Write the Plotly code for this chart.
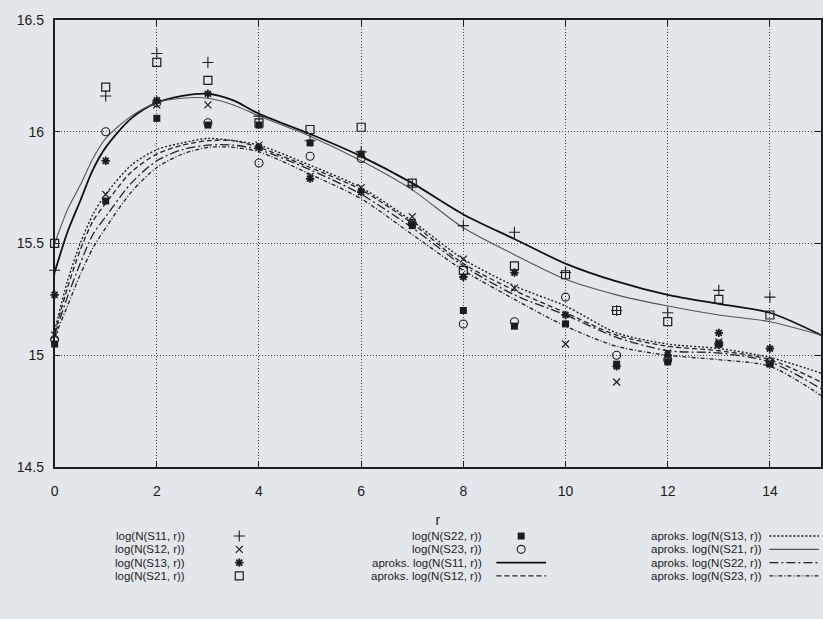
import plotly.graph_objects as go

# ---------------- data ----------------
r = [0, 1, 2, 3, 4, 5, 6, 7, 8, 9, 10, 11, 12, 13, 14]
s11 = [15.38, 16.16, 16.35, 16.31, 16.07, 15.96, 15.91, 15.76, 15.58, 15.55, 15.37, 15.20, 15.19, 15.29, 15.26]
s12 = [15.09, 15.72, 16.12, 16.12, 15.94, 15.80, 15.75, 15.62, 15.43, 15.30, 15.05, 14.88, 15.01, 15.06, 14.97]
s13 = [15.27, 15.87, 16.14, 16.17, 15.93, 15.79, 15.73, 15.59, 15.35, 15.37, 15.18, 14.95, 15.00, 15.10, 15.03]
s21 = [15.50, 16.20, 16.31, 16.23, 16.04, 16.01, 16.02, 15.77, 15.38, 15.40, 15.36, 15.20, 15.15, 15.25, 15.18]
s22 = [15.05, 15.69, 16.06, 16.03, 16.03, 15.95, 15.90, 15.58, 15.20, 15.13, 15.14, 14.96, 14.97, 15.05, 14.96]
s23 = [15.07, 16.00, 16.13, 16.04, 15.86, 15.89, 15.88, 15.59, 15.14, 15.15, 15.26, 15.00, 14.98, 15.05, 14.97]

fit_r = [0, 0.25, 0.5, 0.75, 1, 1.5, 2, 2.5, 3, 3.5, 4, 5, 6, 7, 8, 9, 10, 11, 12, 13, 14, 15]
fit_s11 = [15.37, 15.55, 15.69, 15.83, 15.93, 16.06, 16.13, 16.16, 16.17, 16.14, 16.08, 15.99, 15.89, 15.77, 15.63, 15.52, 15.41, 15.33, 15.27, 15.23, 15.19, 15.09]
fit_s21 = [15.50, 15.65, 15.76, 15.88, 15.97, 16.07, 16.13, 16.15, 16.15, 16.12, 16.07, 15.98, 15.87, 15.74, 15.57, 15.45, 15.34, 15.27, 15.22, 15.18, 15.15, 15.09]
fit_s13 = [15.11, 15.33, 15.50, 15.63, 15.72, 15.85, 15.92, 15.95, 15.97, 15.96, 15.94, 15.85, 15.75, 15.60, 15.43, 15.31, 15.22, 15.10, 15.05, 15.03, 14.99, 14.92]
fit_s12 = [15.10, 15.30, 15.47, 15.60, 15.68, 15.82, 15.90, 15.94, 15.96, 15.96, 15.93, 15.84, 15.74, 15.59, 15.41, 15.29, 15.19, 15.09, 15.04, 15.02, 14.98, 14.88]
fit_s22 = [15.09, 15.26, 15.41, 15.54, 15.62, 15.77, 15.87, 15.92, 15.94, 15.94, 15.92, 15.83, 15.72, 15.57, 15.40, 15.27, 15.18, 15.08, 15.02, 15.01, 14.97, 14.85]
fit_s23 = [15.08, 15.22, 15.36, 15.48, 15.57, 15.73, 15.84, 15.90, 15.93, 15.93, 15.91, 15.81, 15.70, 15.54, 15.38, 15.25, 15.13, 15.04, 15.00, 14.98, 14.95, 14.82]

y_ticks = [14.5, 15, 15.5, 16, 16.5]
y_ticktext = ["14.5", "15", "15.5", "16", "16.5"]
x_ticks = [0, 2, 4, 6, 8, 10, 12, 14]

point_names = ["log(N(S11, r))", "log(N(S12, r))", "log(N(S13, r))", "log(N(S21, r))",
               "log(N(S22, r))", "log(N(S23, r))"]
fit_names = ["aproks. log(N(S11, r))", "aproks. log(N(S12, r))", "aproks. log(N(S13, r))",
             "aproks. log(N(S21, r))", "aproks. log(N(S22, r))", "aproks. log(N(S23, r))"]

# ---------------- styles ----------------
W, H = 823, 619
T = 20
PH = H - T
ink = "#1c1c1c"
bg = "#e2e7eb"
FONT = "Liberation Sans, Arial, Helvetica, sans-serif"

point_series = [s11, s12, s13, s21, s22, s23]
point_styles = [
    dict(symbol="cross-thin-open", size=8, line=dict(width=1.1, color=ink), color=ink),
    dict(symbol="x-thin-open", size=7, line=dict(width=1.2, color=ink), color=ink),
    dict(symbol="asterisk-open", size=7, line=dict(width=1.8, color=ink), color=ink),
    dict(symbol="square-open", size=8, line=dict(width=1.2, color=ink), color=ink),
    dict(symbol="square", size=7, line=dict(width=0, color=ink), color=ink),
    dict(symbol="circle-open", size=8, line=dict(width=1.1, color=ink), color=ink),
]
fit_series = [fit_s11, fit_s12, fit_s13, fit_s21, fit_s22, fit_s23]
fit_styles = [
    dict(color="#111111", width=1.8, dash="solid"),
    dict(color="#222222", width=1.3, dash="5px,3px"),
    dict(color="#222222", width=1.4, dash="2px,2px"),
    dict(color="#555555", width=1.1, dash="solid"),
    dict(color="#222222", width=1.3, dash="9px,3px,2px,3px"),
    dict(color="#222222", width=1.3, dash="4px,2px,1px,2px"),
]

fig = go.Figure()

for ys, st, nm in zip(fit_series, fit_styles, fit_names):
    fig.add_trace(go.Scatter(x=fit_r, y=ys, mode="lines", line=dict(shape="spline", smoothing=0.8, **st),
                             name=nm, showlegend=False, xaxis="x", yaxis="y"))
for ys, st, nm in zip(point_series, point_styles, point_names):
    fig.add_trace(go.Scatter(x=r, y=ys, mode="markers", marker=st, name=nm, showlegend=False,
                             cliponaxis=False, xaxis="x", yaxis="y"))

# ---------------- custom legend (text left, sample right) ----------------
rows = [543, 556.5, 570, 583.5]
legend_items = [
    (183, 0, point_names[0], "m", 0, 237), (183, 1, point_names[1], "m", 1, 237),
    (183, 2, point_names[2], "m", 2, 237), (183, 3, point_names[3], "m", 3, 237),
    (483, 0, point_names[4], "m", 4, 521), (483, 1, point_names[5], "m", 5, 521),
    (483, 2, fit_names[0], "l", 0, (496, 546)), (483, 3, fit_names[1], "l", 1, (496, 546)),
    (765, 0, fit_names[2], "l", 2, (771, 821)), (765, 1, fit_names[3], "l", 3, (771, 821)),
    (765, 2, fit_names[4], "l", 4, (771, 821)), (765, 3, fit_names[5], "l", 5, (771, 821)),
]
annotations = []
for xr, row, label, kind, idx, sx in legend_items:
    yy = rows[row]
    annotations.append(dict(x=xr, y=yy, xref="x2", yref="y2", text=label, showarrow=False,
                            xanchor="right", yanchor="middle", borderpad=0,
                            font=dict(family=FONT, size=11.5, color=ink)))
    if kind == "m":
        fig.add_trace(go.Scatter(x=[sx], y=[yy], mode="markers", marker=point_styles[idx],
                                 showlegend=False, hoverinfo="skip", xaxis="x2", yaxis="y2",
                                 cliponaxis=False))
    else:
        fig.add_trace(go.Scatter(x=list(sx), y=[yy, yy], mode="lines", line=fit_styles[idx],
                                 showlegend=False, hoverinfo="skip", xaxis="x2", yaxis="y2",
                                 cliponaxis=False))

grid = dict(showgrid=True, gridcolor="#4a4a4a", gridwidth=1, griddash="1px,2px")
leg_dom_top = 0.2
fig.update_layout(
    width=W, height=H,
    margin=dict(l=0, r=0, t=T, b=0, pad=0),
    paper_bgcolor=bg, plot_bgcolor=bg,
    font=dict(family=FONT, size=14, color=ink),
    showlegend=False,
    annotations=annotations,
    xaxis=dict(domain=[51 / W, 1], anchor="y", range=[0, 15], tickvals=x_ticks,
               ticks="inside", ticklen=6, tickwidth=1.3, tickcolor=ink,
               showline=True, linecolor=ink, linewidth=1.6, mirror="ticks",
               zeroline=False, tickfont=dict(size=14, color=ink), ticklabelstandoff=10,
               title=dict(text="r", font=dict(size=14, color=ink), standoff=18), **grid),
    yaxis=dict(domain=[1 - (473 - T) / PH, 1], anchor="x", range=[14.5, 16.5],
               tickvals=y_ticks, ticktext=y_ticktext,
               ticks="inside", ticklen=6, tickwidth=1.3, tickcolor=ink,
               showline=True, linecolor=ink, linewidth=1.6, mirror="ticks",
               zeroline=False, tickfont=dict(size=14, color=ink), ticklabelstandoff=6, **grid),
    xaxis2=dict(domain=[0, 1], anchor="y2", range=[0, W], visible=False, fixedrange=True),
    yaxis2=dict(domain=[0, leg_dom_top], anchor="x2", range=[H, H - leg_dom_top * PH],
                visible=False, fixedrange=True),
)

fig.write_html(
    "out.html",
    config={"displayModeBar": False},
    post_script="document.body.style.margin='0';document.body.style.overflow='hidden';"
                "document.body.style.background='" + bg + "';",
)
